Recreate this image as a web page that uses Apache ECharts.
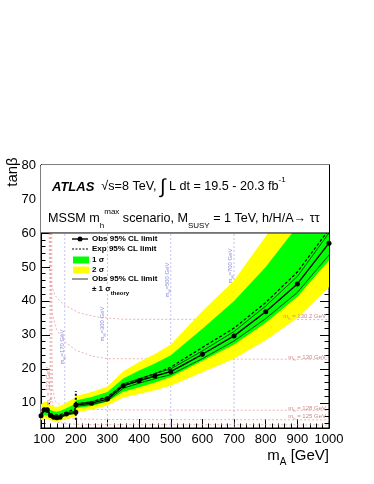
<!DOCTYPE html>
<html lang="en">
<head>
<meta charset="utf-8">
<title>MSSM tanb limits</title>
<style>
  * { margin: 0; padding: 0; }
  #chart-container { width: 374px; height: 484px; }
</style>
</head>
<body>
<div id="chart-container"></div>
<script src="https://cdn.jsdelivr.net/npm/echarts@6/dist/echarts.min.js"></script>
<script>
var dom = document.getElementById('chart-container');
var myChart = echarts.init(dom, null, { renderer: 'canvas' });

// low-mass analysis, mA up to 200 GeV
var massLow = [90, 100, 110, 120, 130, 140, 150, 170, 200];
var obsLow = [6.2, 8.0, 8.0, 6.3, 5.8, 5.6, 5.8, 6.7, 7.2];
var thUpLow = [6.5, 8.4, 8.4, 6.6, 6.1, 5.9, 6.1, 7.0, 7.6];
var thDnLow = [5.9, 7.6, 7.6, 6.0, 5.5, 5.3, 5.5, 6.4, 6.9];
var expLow = [6.9, 7.4, 7.3, 6.8, 6.5, 6.4, 6.5, 7.2, 8.3];
var p1Low = [8.0, 8.6, 8.5, 7.9, 7.5, 7.4, 7.6, 8.4, 9.7];
var m1Low = [5.9, 6.4, 6.3, 5.8, 5.5, 5.4, 5.6, 6.2, 7.1];
var p2Low = [9.6, 10.4, 10.2, 9.4, 8.9, 8.8, 9.1, 10.1, 11.6];
var m2Low = [4.9, 5.4, 5.3, 4.9, 4.6, 4.5, 4.7, 5.2, 6.0];

// high-mass analysis, mA from 200 GeV
var massHigh = [200, 250, 300, 350, 400, 450, 500, 600, 700, 800, 900, 1000];
var obsHigh = [9.4, 9.9, 11.1, 15.0, 16.5, 17.9, 19.2, 24.3, 29.7, 36.8, 45.0, 57.0];
var thUpHigh = [9.8, 10.3, 11.6, 15.6, 17.1, 18.6, 20.0, 25.3, 31.0, 38.5, 47.2, 60.0];
var thDnHigh = [9.0, 9.5, 10.6, 14.3, 15.8, 17.1, 18.3, 23.0, 28.2, 34.8, 42.5, 53.5];
var expHigh = [9.5, 10.3, 11.8, 15.2, 16.9, 18.6, 20.5, 26.3, 32.0, 39.5, 48.5, 61.0];
var p1High = [10.7, 11.7, 13.2, 17.2, 19.5, 21.6, 24.0, 31.8, 40.0, 50.0, 62.0, 76.0];
var m1High = [8.4, 9.1, 10.4, 13.3, 14.6, 16.0, 17.6, 22.4, 27.2, 33.6, 41.2, 52.0];
var p2High = [12.0, 13.2, 14.8, 19.3, 22.0, 24.4, 27.2, 37.0, 46.0, 59.0, 73.0, 88.0];
var m2High = [7.3, 8.0, 9.2, 11.6, 12.6, 13.7, 15.0, 19.0, 23.0, 28.4, 35.0, 44.0];

// dotted line joining the two analyses at mA = 200
var joinMass = [200, 200];
var joinTanb = [5.0, 13.5];

// m_h contours (red dashed)
var mh1302Mass = [116, 117, 122, 135, 160, 210, 270, 350, 1000];
var mh1302Tanb = [60, 50, 45, 41.5, 39, 36.5, 35.2, 34.6, 34.5];
var mh130Mass = [119, 120, 126, 140, 165, 200, 250, 300, 1000];
var mh130Tanb = [60, 42, 36, 31.5, 28, 25.5, 23.8, 23.0, 22.8];
var mh128Mass = [124, 124.5, 127, 135, 155, 200, 350, 1000];
var mh128Tanb = [60, 25, 14, 10.5, 9, 8.2, 7.9, 7.8];
var mh125Mass = [121, 121.5, 124, 132, 145, 180, 300, 1000];
var mh125Tanb = [60, 20, 11, 7, 5.8, 5.3, 5.1, 5.0];
var mh122Mass = [118, 118.5, 120, 126, 140, 170, 250, 1000];
var mh122Tanb = [60, 20, 9, 5.5, 4.3, 3.8, 3.6, 3.5];

// m_H contours (blue dashed)
var mHLines = [165, 300, 500, 700];
var mHTanb = [2.6, 60];

// axis ticks
var xMajor = [100, 200, 300, 400, 500, 600, 700, 800, 900, 1000];
var xMinor = [120, 140, 160, 180, 220, 240, 260, 280, 320, 340, 360, 380, 420, 440, 460, 480,
  520, 540, 560, 580, 620, 640, 660, 680, 720, 740, 760, 780, 820, 840, 860, 880, 920, 940, 960, 980];
var yMajor = [10, 20, 30, 40, 50, 60, 70, 80];
var yMinor = [4, 6, 8, 12, 14, 16, 18, 22, 24, 26, 28, 32, 34, 36, 38, 42, 44, 46, 48,
  52, 54, 56, 58, 62, 64, 66, 68, 72, 74, 76, 78];

var FONT = 'Liberation Sans, Arial, sans-serif';
var BAND_YELLOW = '#ffff00';
var BAND_GREEN = '#00ff00';
var RED_DASH = '#eaa0a0';
var BLUE_DASH = '#b4b4ec';

function pairs(xs, ys) {
  return xs.map(function (x, i) { return [x, ys[i]]; });
}

function plain(v) { return String(v); }

function xAx(pos, ticks, len, labels) {
  return {
    type: 'value', min: 90, max: 1000, position: pos,
    axisLine: { show: true, onZero: false, lineStyle: { color: '#000', width: 1 } },
    axisTick: { show: true, inside: true, length: len, customValues: ticks, lineStyle: { color: '#000' } },
    axisLabel: labels ? {
      customValues: labels, formatter: plain, color: '#000', fontFamily: FONT, fontSize: 13, margin: 5
    } : { show: false },
    splitLine: { show: false }
  };
}

function yAx(pos, ticks, len, labels) {
  return {
    type: 'value', min: 2.6, max: 80, position: pos,
    axisLine: { show: true, onZero: false, lineStyle: { color: '#000', width: 1 } },
    axisTick: { show: true, inside: true, length: len, customValues: ticks, lineStyle: { color: '#000' } },
    axisLabel: labels ? {
      customValues: labels, formatter: plain, color: '#000', fontFamily: FONT, fontSize: 13, margin: 5
    } : { show: false },
    splitLine: { show: false }
  };
}

function band(xs, lo, hi, color, z) {
  return {
    type: 'custom', z: z, silent: true,
    data: xs.map(function (x, i) { return [x, lo[i], hi[i]]; }),
    encode: { x: 0, y: [1, 2] },
    renderItem: function (params, api) {
      if (params.dataIndex !== 0) return;
      var up = [], dn = [];
      for (var i = 0; i < xs.length; i++) {
        up.push(api.coord([xs[i], hi[i]]));
        dn.unshift(api.coord([xs[i], lo[i]]));
      }
      var cs = params.coordSys;
      return {
        type: 'polygon',
        shape: { points: up.concat(dn) },
        style: { fill: color },
        clipPath: { type: 'rect', shape: { x: cs.x, y: cs.y, width: cs.width, height: cs.height } }
      };
    }
  };
}

function line(xs, ys, color, width, type, z, symbol) {
  return {
    type: 'line', z: z, silent: true,
    data: pairs(xs, ys),
    symbol: symbol ? 'circle' : 'none',
    symbolSize: 5,
    itemStyle: { color: color },
    lineStyle: { color: color, width: width, type: type },
    animation: false
  };
}

var series = [];
// contours
[[mh1302Mass, mh1302Tanb], [mh130Mass, mh130Tanb], [mh128Mass, mh128Tanb],
 [mh125Mass, mh125Tanb], [mh122Mass, mh122Tanb]].forEach(function (c) {
  series.push(line(c[0], c[1], RED_DASH, 0.8, [2, 2], 1, false));
});
mHLines.forEach(function (m) {
  series.push(line([m, m], mHTanb, BLUE_DASH, 0.8, [2, 2], 1, false));
});
// bands
series.push(band(massLow, m2Low, p2Low, BAND_YELLOW, 2));
series.push(band(massHigh, m2High, p2High, BAND_YELLOW, 2));
series.push(band(massLow, m1Low, p1Low, BAND_GREEN, 2));
series.push(band(massHigh, m1High, p1High, BAND_GREEN, 2));
// expected
series.push(line(massLow, expLow, '#000', 1.2, [3, 2], 4, false));
series.push(line(massHigh, expHigh, '#000', 1.2, [3, 2], 4, false));
// theory
series.push(line(massLow, thUpLow, '#000', 0.7, 'solid', 4, false));
series.push(line(massLow, thDnLow, '#000', 0.7, 'solid', 4, false));
series.push(line(massHigh, thUpHigh, '#000', 0.7, 'solid', 4, false));
series.push(line(massHigh, thDnHigh, '#000', 0.7, 'solid', 4, false));
// observed
series.push(line(massLow, obsLow, '#000', 1.4, 'solid', 5, true));
series.push(line(massHigh, obsHigh, '#000', 1.4, 'solid', 5, true));
series.push(line(joinMass, joinTanb, '#000', 2, [2, 2], 5, false));
// white text box above tanb = 60
series.push({
  type: 'custom', z: 8, silent: true,
  data: [[90, 60, 80]],
  encode: { x: 0, y: [1, 2] },
  renderItem: function (params, api) {
    var a = api.coord([90, 80]);
    var b = api.coord([1000, 60]);
    return {
      type: 'group',
      children: [
        { type: 'rect', shape: { x: a[0], y: a[1], width: b[0] - a[0], height: b[1] - a[1] }, style: { fill: '#fff' } },
        { type: 'line', shape: { x1: a[0], y1: b[1], x2: b[0], y2: b[1] }, style: { stroke: '#000', lineWidth: 1 } }
      ]
    };
  }
});

var supSub = {
  n: { fontFamily: FONT, fontSize: 12.6, lineHeight: 22, verticalAlign: 'middle', fill: '#000' },
  a: { fontFamily: FONT, fontSize: 13, fontWeight: 'bold', fontStyle: 'italic', lineHeight: 22, verticalAlign: 'middle', fill: '#000' },
  i: { fontFamily: FONT, fontSize: 20, lineHeight: 22, verticalAlign: 'middle', fill: '#000' },
  s: { fontFamily: FONT, fontSize: 8, lineHeight: 10, verticalAlign: 'bottom', fill: '#000' },
  p: { fontFamily: FONT, fontSize: 8, lineHeight: 10, verticalAlign: 'top', fill: '#000' }
};

function txt(x, y, text, opts) {
  opts = opts || {};
  return {
    type: 'text', x: x, y: y, z: 100, silent: true,
    rotation: opts.rot || 0,
    style: {
      text: text, rich: opts.rich || supSub,
      fontFamily: FONT, fontSize: opts.size || 13, fontWeight: opts.weight || 'normal',
      fill: opts.color || '#000',
      align: opts.align || 'left', verticalAlign: 'middle'
    }
  };
}

function smallRich(color, size) {
  return {
    n: { fontFamily: FONT, fontSize: size, lineHeight: size + 4, verticalAlign: 'middle', fill: color },
    s: { fontFamily: FONT, fontSize: size * 0.7, lineHeight: size * 0.7, verticalAlign: 'bottom', fill: color },
    b: { fontFamily: FONT, fontSize: size, fontWeight: 'bold', lineHeight: size + 6, verticalAlign: 'middle', fill: color },
    bs: { fontFamily: FONT, fontSize: 6, fontWeight: 'bold', lineHeight: 6, verticalAlign: 'bottom', fill: color }
  };
}

var legendRows = [239, 249, 260, 270, 279, 289];
var lgX0 = 72, lgX1 = 88, lgText = 92;
var legendRich = smallRich('#000', 8);

var graphics = [
  // axis titles
  txt(13, 172, '{n|tanβ}', { rot: Math.PI / 2, align: 'center',
    rich: { n: { fontFamily: FONT, fontSize: 15, fill: '#000' } } }),
  txt(329, 456, '{t|m}{ts|A}{t| [GeV]}', { align: 'right', rich: {
    t: { fontFamily: FONT, fontSize: 15, lineHeight: 22, verticalAlign: 'middle', fill: '#000' },
    ts: { fontFamily: FONT, fontSize: 10, lineHeight: 12, verticalAlign: 'bottom', fill: '#000' } } }),
  // header
  txt(52, 187, '{a|ATLAS}{n|  √s=8 TeV, }{i|∫}{n| L dt = 19.5 - 20.3 fb}{p|-1}'),
  txt(48, 219, '{n|MSSM m}{s|h}{p|max}{n| scenario, M}{s|SUSY}{n| = 1 TeV, h/H/A→ ττ}'),
  // legend
  { type: 'line', z: 100, shape: { x1: lgX0, y1: legendRows[0], x2: lgX1, y2: legendRows[0] }, style: { stroke: '#000', lineWidth: 1.4 } },
  { type: 'circle', z: 100, shape: { cx: (lgX0 + lgX1) / 2, cy: legendRows[0], r: 2.5 }, style: { fill: '#000' } },
  { type: 'line', z: 100, shape: { x1: lgX0, y1: legendRows[1], x2: lgX1, y2: legendRows[1] }, style: { stroke: '#000', lineWidth: 1.2, lineDash: [2, 1.5] } },
  { type: 'rect', z: 100, shape: { x: lgX0 + 1, y: legendRows[2] - 3.5, width: 16, height: 7 }, style: { fill: BAND_GREEN } },
  { type: 'rect', z: 100, shape: { x: lgX0 + 1, y: legendRows[3] - 3.5, width: 16, height: 7 }, style: { fill: BAND_YELLOW } },
  { type: 'line', z: 100, shape: { x1: lgX0, y1: legendRows[4], x2: lgX1, y2: legendRows[4] }, style: { stroke: '#000', lineWidth: 0.8 } },
  txt(lgText, legendRows[0], '{b|Obs 95% CL limit}', { rich: legendRich }),
  txt(lgText, legendRows[1], '{b|Exp 95% CL limit}', { rich: legendRich }),
  txt(lgText, legendRows[2], '{b|1 σ}', { rich: legendRich }),
  txt(lgText, legendRows[3], '{b|2 σ}', { rich: legendRich }),
  txt(lgText, legendRows[4], '{b|Obs 95% CL limit}', { rich: legendRich }),
  txt(lgText, legendRows[5], '{b|± 1 σ}{bs|theory}', { rich: legendRich })
];

// contour labels
var redRich = smallRich('#d08a8a', 6);
var blueRich = smallRich('#8c8cd8', 6);
graphics.push(txt(326, 316, '{n|m}{s|h}{n| = 130.2 GeV}', { align: 'right', rich: redRich }));
graphics.push(txt(326, 357, '{n|m}{s|h}{n| = 130 GeV}', { align: 'right', rich: redRich }));
graphics.push(txt(326, 408, '{n|m}{s|h}{n| = 128 GeV}', { align: 'right', rich: redRich }));
graphics.push(txt(326, 416, '{n|m}{s|h}{n| = 125 GeV}', { align: 'right', rich: redRich }));
graphics.push(txt(48, 386, '{n|m}{s|h}{n| = 122 GeV}', { align: 'center', rot: Math.PI / 2, rich: redRich }));
graphics.push(txt(62, 347, '{n|m}{s|H}{n|=170 GeV}', { align: 'center', rot: Math.PI / 2, rich: blueRich }));
graphics.push(txt(102, 324, '{n|m}{s|H}{n|=300 GeV}', { align: 'center', rot: Math.PI / 2, rich: blueRich }));
graphics.push(txt(167, 280, '{n|m}{s|H}{n|=500 GeV}', { align: 'center', rot: Math.PI / 2, rich: blueRich }));
graphics.push(txt(230, 266, '{n|m}{s|H}{n|=700 GeV}', { align: 'center', rot: Math.PI / 2, rich: blueRich }));

var option = {
  animation: false,
  backgroundColor: '#fff',
  grid: { left: 41, right: 45, top: 165, bottom: 56, show: true, borderColor: '#000', borderWidth: 1, backgroundColor: 'transparent' },
  xAxis: [
    xAx('bottom', xMajor, 9, xMajor),
    xAx('bottom', xMinor, 4.5, null),
    xAx('top', xMajor, 9, null),
    xAx('top', xMinor, 4.5, null)
  ],
  yAxis: [
    yAx('left', yMajor, 9, yMajor),
    yAx('left', yMinor, 4.5, null),
    yAx('right', yMajor, 9, null),
    yAx('right', yMinor, 4.5, null)
  ],
  series: series,
  graphic: graphics
};

myChart.setOption(option);
window.addEventListener('resize', myChart.resize);
</script>
</body>
</html>
